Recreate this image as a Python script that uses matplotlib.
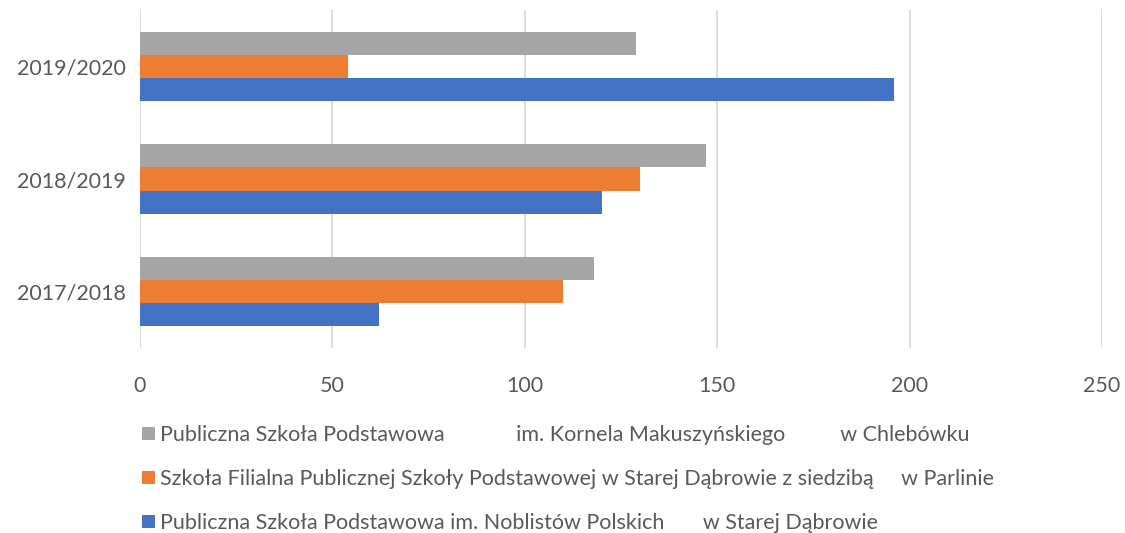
import numpy as np
import matplotlib.pyplot as plt

plt.rcParams['font.family'] = ['Lato', 'DejaVu Sans']

years = ['2017/2018', '2018/2019', '2019/2020']
noblistow = [62, 120, 196]
parlinie = [110, 130, 54]
chlebowko = [118, 147, 129]

labels = ['Publiczna Szkoła Podstawowa im. Noblistów Polskich       w Starej Dąbrowie',
          'Szkoła Filialna Publicznej Szkoły Podstawowej w Starej Dąbrowie z siedzibą     w Parlinie',
          'Publiczna Szkoła Podstawowa             im. Kornela Makuszyńskiego          w Chlebówku']
colors = ['#4472c4', '#ed7d31', '#a5a5a5']

fig = plt.figure(figsize=(11.25, 5.33), dpi=100)
ax = fig.add_axes([140/1125, 1 - 348/533, (1102-140)/1125, 338/533])

y = np.arange(len(years))
h = 0.205
bars = []
for i, vals in enumerate([noblistow, parlinie, chlebowko]):
    b = ax.barh(y + (i - 1) * h, vals, height=h, color=colors[i], zorder=3)
    bars.append(b)

ax.set_xlim(0, 250)
ax.set_ylim(-0.5, 2.5)
ax.set_xticks(range(0, 251, 50))
ax.set_yticks(y)
ax.set_yticklabels(years)
ax.grid(axis='x', color='#d9d9d9', linewidth=1.3, zorder=0)
for s in ax.spines.values():
    s.set_visible(False)
ax.tick_params(length=0, labelsize=15.5, labelcolor='#595959')
ax.tick_params(axis='x', pad=20)
ax.tick_params(axis='y', pad=10)

fig.legend(bars[::-1], labels[::-1], loc='upper left',
           bbox_to_anchor=(142/1125, 1 - 425/533), frameon=False,
           fontsize=15.5, labelcolor='#595959', handlelength=0.6,
           handleheight=0.6, handletextpad=0.25, labelspacing=1.12,
           borderaxespad=0, borderpad=0)

plt.savefig('out.png', dpi=100)
